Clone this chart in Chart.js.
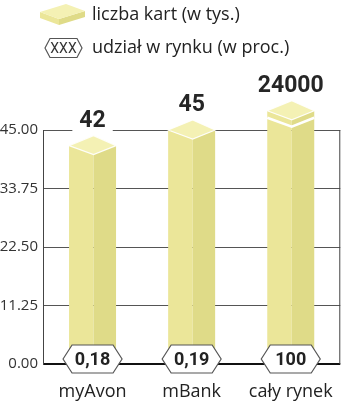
<!DOCTYPE html>
<html>
<head>
<meta charset="utf-8">
<script src="https://cdn.jsdelivr.net/npm/chart.js@4"></script>
<style>
  html, body { margin: 0; padding: 0; background: #fff; }
  #wrap { width: 350px; height: 405px; }
</style>
</head>
<body>
<div id="wrap"><canvas id="myChart"></canvas></div>
<script>
const labels = ['myAvon', 'mBank', 'cały rynek'];
const cards = [42, 45, 24000];              // liczba kart (w tys.)
const cardLabels = ['42', '45', '24000'];
const shares = ['0,18', '0,19', '100'];     // udział w rynku (w proc.)
const yTicks = [0, 11.25, 22.5, 33.75, 45];
const legendTexts = ['liczba kart (w tys.)', 'udział w rynku (w proc.)'];
const capValue = 48.7;  // bars above the scale get cut here

const colTop = '#f4f1b4';
const colLeft = '#ebe699';
const colRight = '#dfdb88';

function poly(ctx, pts, fill) {
  ctx.beginPath();
  ctx.moveTo(pts[0][0], pts[0][1]);
  for (let i = 1; i < pts.length; i++) ctx.lineTo(pts[i][0], pts[i][1]);
  ctx.closePath();
  ctx.fillStyle = fill;
  ctx.fill();
}

function hexagon(ctx, cx, cy, w, h, inset) {
  const l = cx - w / 2, r = cx + w / 2;
  ctx.beginPath();
  ctx.moveTo(l, cy);
  ctx.lineTo(l + inset, cy - h / 2);
  ctx.lineTo(r - inset, cy - h / 2);
  ctx.lineTo(r, cy);
  ctx.lineTo(r - inset, cy + h / 2);
  ctx.lineTo(l + inset, cy + h / 2);
  ctx.closePath();
  ctx.fillStyle = '#fff';
  ctx.fill();
  ctx.strokeStyle = '#555';
  ctx.lineWidth = 1.2;
  ctx.stroke();
}

// 3D boxes, share hexagons, value labels, legend
const boxes = {
  id: 'boxes',
  afterDatasetsDraw(chart) {
    const ctx = chart.ctx;
    const area = chart.chartArea;
    const yScale = chart.scales.y;
    const meta = chart.getDatasetMeta(0);
    ctx.save();

    // right frame line
    ctx.strokeStyle = '#444';
    ctx.lineWidth = 1;
    ctx.beginPath();
    ctx.moveTo(area.right - 0.5, area.top);
    ctx.lineTo(area.right - 0.5, area.bottom);
    ctx.stroke();

    meta.data.forEach((bar, i) => {
      const cx = bar.x;
      const w = bar.width;
      const xL = cx - w / 2, xR = cx + w / 2, xm = cx + 1;
      const top = Math.max(bar.y, yScale.getPixelForValue(capValue));
      const base = bar.base;
      const up = 10, down = 9;

      poly(ctx, [[xL, top], [xm, top + down], [xm, base], [xL, base]], colLeft);
      poly(ctx, [[xm, top + down], [xR, top], [xR, base], [xm, base]], colRight);
      poly(ctx, [[xL, top], [xm, top - up], [xR, top], [xm, top + down]], colTop);

      ctx.strokeStyle = 'rgba(255,255,255,0.9)';
      ctx.lineWidth = 1.2;
      ctx.beginPath();
      ctx.moveTo(xL, top);
      ctx.lineTo(xm, top + down);
      ctx.lineTo(xR, top);
      ctx.lineTo(xm, top - up);
      ctx.closePath();
      ctx.stroke();

      if (cards[i] > capValue) {
        ctx.lineWidth = 2.5;
        ctx.strokeStyle = '#fff';
        ctx.beginPath();
        ctx.moveTo(xL, top + 7);
        ctx.lineTo(xm, top + down + 7);
        ctx.lineTo(xR, top + 7);
        ctx.stroke();
      }

      // value label
      ctx.font = 'bold 23px Roboto';
      const tw = ctx.measureText(cardLabels[i]).width;
      const ty = top - up - 4;
      ctx.fillStyle = '#fff';
      ctx.fillRect(cx - tw / 2 - 7, ty - 19, tw + 14, 19);
      ctx.fillStyle = '#262626';
      ctx.textAlign = 'center';
      ctx.textBaseline = 'bottom';
      ctx.fillText(cardLabels[i], cx, ty + 1);

      // share hexagon
      const hy = area.bottom - 5;
      hexagon(ctx, cx, hy, 59, 28, 9);
      ctx.font = 'bold 18px Roboto';
      ctx.fillStyle = '#222';
      ctx.textBaseline = 'middle';
      ctx.fillText(shares[i], cx, hy + 1);
    });

    // legend
    poly(ctx, [[40, 18], [59, 25], [59, 19], [40, 12]], colLeft);
    poly(ctx, [[59, 19], [85, 11], [85, 17], [59, 25]], colRight);
    poly(ctx, [[40, 12], [66, 4], [85, 11], [59, 19]], colTop);
    hexagon(ctx, 63.5, 48, 37, 19, 5);
    ctx.font = '14px Roboto';
    ctx.fillStyle = '#333';
    ctx.textAlign = 'center';
    ctx.textBaseline = 'middle';
    ctx.fillText('XXX', 63.5, 49);

    ctx.font = '18px "Open Sans"';
    ctx.fillStyle = '#222';
    ctx.textAlign = 'left';
    ctx.fillText(legendTexts[0], 92, 15);
    ctx.fillText(legendTexts[1], 92, 48);
    ctx.restore();
  }
};

const data = {
  labels: labels,
  datasets: [{
    data: cards,
    backgroundColor: 'rgba(0,0,0,0)',
    barThickness: 47
  }]
};

const config = {
  type: 'bar',
  data: data,
  options: {
    responsive: true,
    maintainAspectRatio: false,
    animation: false,
    layout: { padding: { top: 130, right: 2, left: 0, bottom: 0 } },
    plugins: {
      legend: { display: false },
      tooltip: { enabled: false }
    },
    scales: {
      x: {
        afterFit(scale) { scale.height = 41; },
        grid: { display: false, drawTicks: false },
        border: { display: false },
        ticks: {
          padding: 17,
          color: '#222',
          font: { family: '"Open Sans"', size: 18 }
        }
      },
      y: {
        min: 0,
        max: 45,
        afterFit(scale) { scale.width = 43; },
        afterBuildTicks(scale) { scale.ticks = yTicks.map(v => ({ value: v })); },
        grid: {
          drawTicks: false,
          color: ctx => ctx.tick && ctx.tick.value === 0 ? '#111' : '#555',
          lineWidth: ctx => ctx.tick && ctx.tick.value === 0 ? 2 : 1
        },
        border: { display: true, color: '#444' },
        ticks: {
          padding: 5,
          color: '#333',
          font: { family: '"Open Sans"', size: 15 },
          callback: v => v.toFixed(2)
        }
      }
    }
  },
  plugins: [boxes]
};

const myChart = new Chart(
  document.getElementById('myChart'),
  config
);
</script>
</body>
</html>
